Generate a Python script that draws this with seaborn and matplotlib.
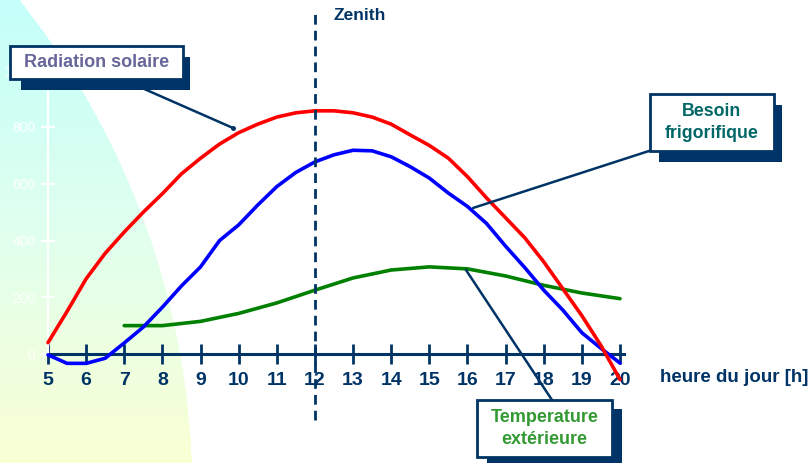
import numpy as np
import pandas as pd
import seaborn as sns
import matplotlib.pyplot as plt
from matplotlib.patches import Rectangle
from matplotlib.lines import Line2D

sns.set_theme(style="white")
plt.rcParams['font.family'] = ['Liberation Sans', 'DejaVu Sans']

# values
hours = [5, 5.5, 6, 6.5, 7, 7.5, 8, 8.5, 9, 9.5, 10, 10.5, 11, 11.5, 12,
         12.5, 13, 13.5, 14, 14.5, 15, 15.5, 16, 16.5, 17, 17.5, 18, 18.5,
         19, 19.5, 20]
radiation = [40, 150, 265, 355, 430, 500, 565, 635, 690, 740, 780, 810, 835,
             850, 857, 857, 850, 835, 810, 772, 735, 690, 625, 550, 480, 410,
             325, 230, 135, 30, -90]
besoin = [-3, -33, -33, -15, 39, 95, 165, 240, 307, 400, 455, 525, 590, 640,
          677, 702, 718, 716, 695, 660, 620, 567, 520, 460, 380, 305, 225,
          155, 75, 20, -32]
temp_hours = [7, 8, 9, 10, 11, 12, 13, 14, 15, 16, 17, 18, 19, 20]
temperature = [100, 100, 115, 143, 180, 225, 268, 296, 307, 300, 275, 242,
               215, 195]
x_ticks = list(range(5, 21))
y_ticks = [0, 200, 400, 600, 800, 1000]

df = pd.DataFrame({'heure': hours, 'rad': radiation, 'besoin': besoin})
df_t = pd.DataFrame({'heure': temp_hours, 'temp': temperature})

navy = '#003366'
W, H = 812, 463
fig = plt.figure(figsize=(W / 100, H / 100), dpi=100)
fig.patch.set_facecolor('white')
ax = fig.add_axes([0, 0, 1, 1])

# pixel <-> data mapping so the chart sits like the reference
x0_px, px_per_h = 48, 38.133
y0_px, px_per_u = 354, 0.28375
xlim = (5 - x0_px / px_per_h, 5 + (W - x0_px) / px_per_h)
ylim = (-(H - y0_px) / px_per_u, y0_px / px_per_u)

# light cyan -> yellow disc in the corner
gx, gy = np.meshgrid(np.arange(W), np.arange(H))
inside = (gx + 598) ** 2 + (gy - 493) ** 2 < 790 ** 2
t = (gy / (H - 1))[..., None]
top = np.array([196, 255, 250]) / 255
mid = np.array([224, 255, 238]) / 255
bot = np.array([250, 255, 212]) / 255
col = np.where(t < 0.5, top + (mid - top) * (t / 0.5), mid + (bot - mid) * ((t - 0.5) / 0.5))
img = np.where(inside[..., None], col, 1.0)
ax.imshow(img, extent=[xlim[0], xlim[1], ylim[0], ylim[1]], origin='upper',
          aspect='auto', zorder=0, interpolation='bilinear')

sns.lineplot(data=df_t, x='heure', y='temp', color='#008000', lw=2.6, ax=ax, zorder=3)
sns.lineplot(data=df, x='heure', y='besoin', color='#0000ff', lw=2.6, ax=ax, zorder=4)
sns.lineplot(data=df, x='heure', y='rad', color='#ff0000', lw=2.6, ax=ax, zorder=5)

ax.axvline(12, ymin=1 - 420 / H, ymax=1 - 10 / H, color=navy, lw=2,
           linestyle=(0, (3.5, 2.2)), zorder=6)

ax.set_xlim(*xlim)
ax.set_ylim(*ylim)
ax.set_facecolor('none')
ax.grid(False)
ax.set(xlabel='', ylabel='')

for s in ['top', 'right']:
    ax.spines[s].set_visible(False)
ax.spines['bottom'].set_position(('data', 0))
ax.spines['bottom'].set_bounds(5, 20.1)
ax.spines['bottom'].set_color(navy)
ax.spines['bottom'].set_linewidth(2.2)
ax.spines['bottom'].set_zorder(2)
ax.spines['left'].set_position(('data', 5))
ax.spines['left'].set_bounds(0, 1000)
ax.spines['left'].set_color('white')
ax.spines['left'].set_linewidth(1.5)

ax.set_xticks(x_ticks)
ax.set_xticklabels([str(h) for h in x_ticks], fontsize=14, fontweight='bold', color=navy)
ax.tick_params(axis='x', direction='inout', length=14, width=2, color=navy, pad=6,
               bottom=True)
ax.set_yticks(y_ticks)
ax.set_yticklabels([str(v) for v in y_ticks], fontsize=10, color='white')
ax.tick_params(axis='y', direction='inout', length=10, width=1.5, color='white', pad=4,
               left=True)


def px(x, y):
    return x / W, 1 - y / H


def box(x0, y0, x1, y1, sx0, sy0, sx1, sy1, text, color, size):
    shadow = Rectangle(px(sx0, sy1), (sx1 - sx0) / W, (sy1 - sy0) / H,
                       transform=fig.transFigure, facecolor=navy, edgecolor='none', zorder=8)
    front = Rectangle(px(x0, y1), (x1 - x0) / W, (y1 - y0) / H,
                      transform=fig.transFigure, facecolor='white', edgecolor=navy,
                      lw=2, zorder=9)
    fig.add_artist(shadow)
    fig.add_artist(front)
    fig.text(*px((x0 + x1) / 2, (y0 + y1) / 2), text, ha='center', va='center',
             fontsize=size, fontweight='bold', color=color, linespacing=1.45, zorder=10)


def connector(xa, ya, xb, yb):
    fig.add_artist(Line2D([xa / W, xb / W], [1 - ya / H, 1 - yb / H],
                          transform=fig.transFigure, color=navy, lw=1.8, zorder=7))


connector(142, 88, 233, 128)
fig.add_artist(Line2D([233 / W], [1 - 128 / H], transform=fig.transFigure,
                      marker='o', ms=2.5, color=navy, zorder=7))
connector(652, 150, 473, 208)
connector(466, 270, 552, 400)

box(10, 46, 183, 79, 21, 57, 190, 90, 'Radiation solaire', '#666699', 13)
box(650, 94, 774, 151, 659, 105, 782, 162, 'Besoin\nfrigorifique', '#006666', 12.8)
box(477, 400, 612, 457, 487, 409, 622, 463, 'Temperature\nextérieure', '#339933', 13)

fig.text(*px(333, 15), 'Zenith', ha='left', va='center', fontsize=12.5,
         fontweight='bold', color=navy)
fig.text(*px(660, 378), 'heure du jour [h]', ha='left', va='center', fontsize=13.5,
         fontweight='bold', color=navy)

plt.savefig('out.png', dpi=100)
